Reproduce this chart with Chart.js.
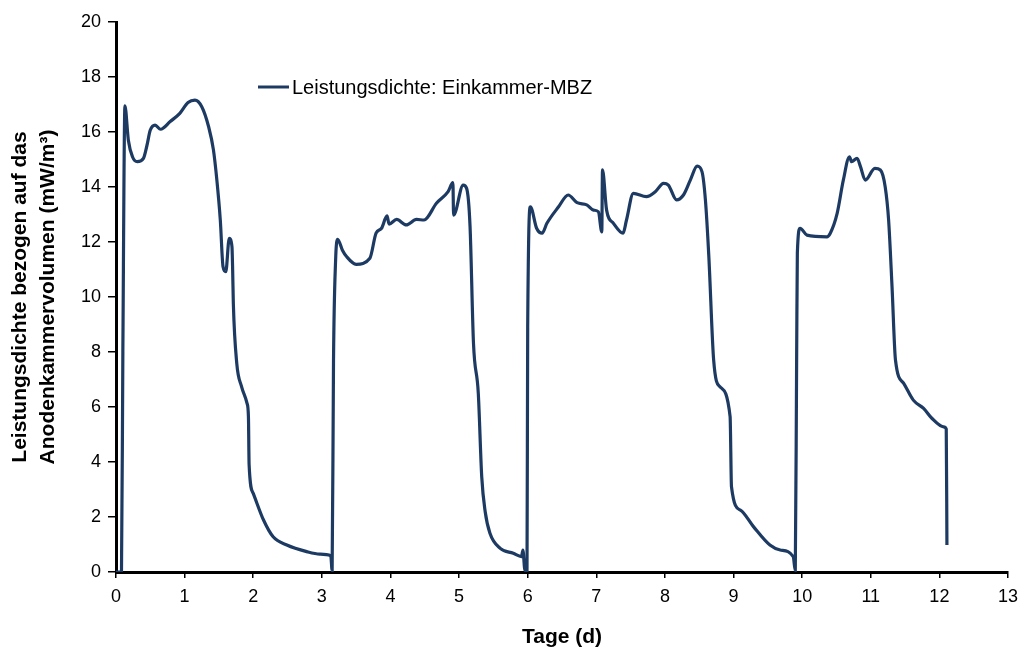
<!DOCTYPE html>
<html>
<head>
<meta charset="utf-8">
<script src="https://cdn.jsdelivr.net/npm/chart.js@4.4.1/dist/chart.umd.min.js"></script>
<style>
  html, body { margin: 0; padding: 0; background: #fff; }
  #wrap { width: 1023px; height: 652px; position: relative; }
</style>
</head>
<body>
<div id="wrap"><canvas id="chart"></canvas></div>
<script>
// Tage (d) und Leistungsdichte (mW/m³), vier Batch-Zyklen
var tage = [
  0, 0.08, 0.10, 0.13, 0.18, 0.24, 0.31, 0.40, 0.45, 0.50, 0.57, 0.65, 0.79, 0.93, 1.05, 1.15, 1.25,
  1.35, 1.42, 1.47, 1.52, 1.56, 1.60, 1.65, 1.69, 1.70, 1.71, 1.76, 1.83, 1.91, 1.93, 1.94, 2.00,
  2.15, 2.29, 2.49, 2.78, 2.97, 3.13, 3.15,
  3.17, 3.20, 3.23, 3.30, 3.36, 3.50, 3.70, 3.79, 3.87, 3.95, 3.98, 4.09, 4.23, 4.38, 4.49, 4.67,
  4.84, 4.91, 4.92, 5.06, 5.11, 5.16, 5.21, 5.28, 5.33, 5.38, 5.45, 5.60, 5.79, 5.91, 5.93, 5.96,
  5.99, 6.00, 6.04, 6.13, 6.21, 6.28, 6.45, 6.59, 6.72, 6.86, 6.96, 7.03, 7.08, 7.09, 7.15, 7.25,
  7.39, 7.44, 7.54, 7.73, 7.86, 7.98, 8.05, 8.17, 8.27, 8.37, 8.47, 8.54, 8.59, 8.64, 8.71, 8.80,
  8.95, 8.97, 9.10, 9.29, 9.53, 9.68, 9.87, 9.90,
  9.92, 9.93, 9.97, 10.07, 10.36, 10.41, 10.51, 10.60, 10.69, 10.72, 10.80, 10.85, 10.92, 11.06,
  11.14, 11.21, 11.26, 11.31, 11.36, 11.48, 11.62, 11.77, 11.89, 12.06, 12.10, 12.11
];
var leistung = [
  0, 0, 8.0, 16.95, 15.7, 15.1, 14.92, 15.04, 15.5, 16.07, 16.25, 16.1, 16.38, 16.68, 17.07, 17.16, 16.92,
  16.19, 15.35, 14.25, 12.8, 11.1, 10.92, 12.13, 11.83, 11.0, 9.77, 7.59, 6.74, 6.13, 5.65, 3.9, 2.86,
  1.89, 1.28, 0.98, 0.74, 0.65, 0.59, 0.05,
  7.7, 11.3, 12.1, 11.7, 11.47, 11.19, 11.41, 12.32, 12.5, 12.95, 12.65, 12.82, 12.62, 12.82, 12.8, 13.41,
  13.83, 14.16, 12.98, 14.07, 13.95, 12.56, 8.32, 6.5, 3.47, 2.2, 1.41, 0.86, 0.68, 0.56, 0.8, 0.05,
  0.05, 8.9, 13.28, 12.5, 12.32, 12.68, 13.28, 13.71, 13.43, 13.35, 13.16, 13.1, 12.37, 14.62, 13.16, 12.68,
  12.32, 12.8, 13.77, 13.65, 13.83, 14.13, 14.07, 13.53, 13.71, 14.25, 14.76, 14.56, 13.53, 11.47, 7.71, 6.74,
  5.65, 3.1, 2.25, 1.65, 0.98, 0.8, 0.56, 0.05,
  7.95, 11.6, 12.5, 12.25, 12.19, 12.32, 13.04, 14.25, 15.1, 14.92, 15.04, 14.74, 14.25, 14.68,
  14.62, 14.01, 12.8, 10.37, 7.71, 6.86, 6.25, 5.95, 5.59, 5.28, 5.2, 0.98
];
var xTicks = [0, 1, 2, 3, 4, 5, 6, 7, 8, 9, 10, 11, 12, 13];
var yTicks = [0, 2, 4, 6, 8, 10, 12, 14, 16, 18, 20];

var lineColor = '#1d3a63';
var points = tage.map(function(t, i){ return { x: t, y: leistung[i] }; });

// legend drawn inside the plot area
var innerLegend = {
  id: 'innerLegend',
  afterDraw: function(chart){
    var ctx = chart.ctx;
    var ds = chart.data.datasets[0];
    ctx.save();
    ctx.strokeStyle = ds.borderColor;
    ctx.lineWidth = 3;
    ctx.beginPath();
    ctx.moveTo(258, 87);
    ctx.lineTo(289, 87);
    ctx.stroke();
    ctx.fillStyle = '#000';
    ctx.font = '20px "Liberation Sans", Arial, sans-serif';
    ctx.textBaseline = 'middle';
    ctx.fillText(ds.label, 292, 88);
    ctx.restore();
  }
};

var tickFont = { family: '"Liberation Sans", Arial, sans-serif', size: 18 };
var titleFont = { family: '"Liberation Sans", Arial, sans-serif', size: 21, weight: 'bold', lineHeight: 1.3 };

new Chart(document.getElementById('chart'), {
  type: 'line',
  data: {
    datasets: [{
      label: 'Leistungsdichte: Einkammer-MBZ',
      data: points,
      borderColor: lineColor,
      backgroundColor: lineColor,
      borderWidth: 3.2,
      pointRadius: 0,
      cubicInterpolationMode: 'monotone',
      fill: false
    }]
  },
  options: {
    responsive: true,
    maintainAspectRatio: false,
    animation: false,
    layout: { padding: { top: 22, right: 15, left: 0, bottom: 0 } },
    plugins: {
      legend: { display: false },
      tooltip: { enabled: false }
    },
    scales: {
      x: {
        type: 'linear',
        min: 0,
        max: 13,
        afterBuildTicks: function(scale){ scale.ticks = xTicks.map(function(v){ return { value: v }; }); },
        afterFit: function(scale){
          scale.height = 80;
          scale.paddingLeft = 0;
          scale.paddingRight = 0;
        },
        ticks: { color: '#000', font: tickFont, padding: 8, maxRotation: 0 },
        grid: { drawOnChartArea: false, color: '#000', tickLength: 6, lineWidth: 1.5 },
        border: { color: '#000', width: 3 },
        title: { display: true, text: 'Tage (d)', color: '#000', font: titleFont, padding: { top: 0, bottom: 1 } }
      },
      y: {
        min: 0,
        max: 20,
        afterBuildTicks: function(scale){ scale.ticks = yTicks.map(function(v){ return { value: v }; }); },
        afterFit: function(scale){ scale.width = 116; },
        ticks: { color: '#000', font: tickFont, padding: 7 },
        grid: { drawOnChartArea: false, color: '#000', tickLength: 8, lineWidth: 1.5 },
        border: { color: '#000', width: 3 },
        title: {
          display: true,
          text: ['Leistungsdichte bezogen auf das', 'Anodenkammervolumen (mW/m³)'],
          color: '#000',
          font: titleFont,
          padding: { top: 7, bottom: 0 }
        }
      }
    }
  },
  plugins: [innerLegend]
});
</script>
</body>
</html>
